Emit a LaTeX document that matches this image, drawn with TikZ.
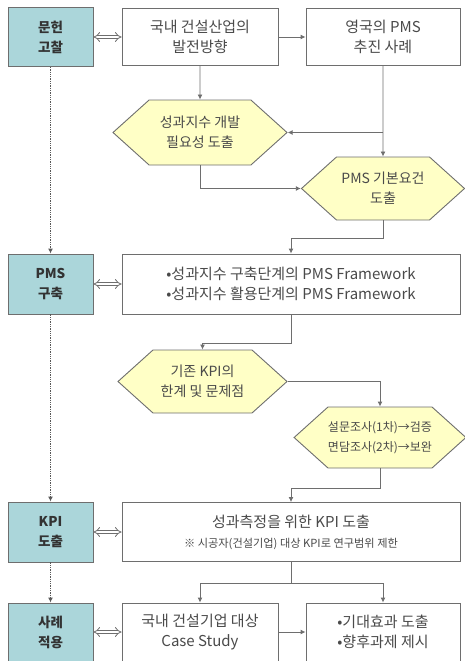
\documentclass[tikz,border=0pt]{standalone}
\usepackage{fontspec}
\setmainfont{Noto Sans CJK KR}
\usepackage[svgnames]{xcolor}
\usepackage{tikz}
\usetikzlibrary{calc,arrows.meta,shapes.symbols}

\definecolor{StageTeal}{HTML}{ABD6DA}
\definecolor{HexYellow}{HTML}{FFFFC6}
\definecolor{LineGray}{HTML}{6E6E6E}
\definecolor{TextGray}{HTML}{4A4A4A}

\tikzset{
  stage/.style={draw=LineGray, fill=StageTeal, line width=0.9pt, inner sep=0pt,
    minimum width=85pt, align=center, text=black!80,
    font=\fontsize{13.5}{20}\selectfont\bfseries},
  task/.style={draw=LineGray, fill=white, line width=0.9pt, inner sep=0pt,
    align=center, text=TextGray, font=\fontsize{15}{20}\selectfont},
  hexa/.style={signal, signal to=east and west, signal pointer angle=84,
    draw=LineGray, fill=HexYellow, line width=0.9pt, inner sep=0pt,
    align=center, text=TextGray, font=\fontsize{14}{20}\selectfont},
  flow/.style={draw=LineGray, line width=0.9pt, -{Latex[length=5pt,width=5pt]}},
  link/.style={draw=LineGray, line width=0.8pt, double=white, double distance=2.6pt,
    {Implies}-{Implies}},
  track/.style={draw=LineGray!80!black, line width=1.3pt, densely dotted,
    -{Latex[length=5pt,width=5pt]}},
}

\begin{document}
\begin{tikzpicture}[x=1pt, y=-1pt]
    \useasboundingbox (0,0) rectangle (465,661);

    %Stages, left column
    \node[stage, minimum height=59pt] (lit)  at (50.5,37) {문헌\\고찰};
    \node[stage, minimum height=60pt] (pms)  at (50.5,284)  {PMS\\구축};
    \node[stage, minimum height=60pt] (kpi)  at (50.5,532) {KPI\\도출};
    \node[stage, minimum height=58pt] (case) at (50.5,632)  {사례\\적용};

    %Literature review
    \node[task, minimum width=156pt, minimum height=57pt] (dev) at (200,37) {국내 건설산업의\\발전방향};
    \node[task, minimum width=154pt, minimum height=57pt] (uk)  at (383,37) {영국의 PMS\\추진 사례};
    \node[hexa, minimum width=174pt, minimum height=65pt] (need) at (200,132.5) {성과지수 개발\\필요성 도출};
    \node[hexa, minimum width=163pt, minimum height=63pt] (req)  at (383,188.5) {PMS 기본요건\\도출};

    %Framework
    \node[task, minimum width=338pt, minimum height=60pt] (fw) at (291,284)
        {\textbullet 성과지수 구축단계의 PMS Framework\\\textbullet 성과지수 활용단계의 PMS Framework};
    \node[hexa, minimum width=169pt, minimum height=63pt] (lim)  at (202.5,381.5) {기존 KPI의\\한계 및 문제점};
    \node[hexa, minimum width=168pt, minimum height=61pt, font=\fontsize{12}{20}\selectfont] (surv) at (380,437.5)
        {설문조사(1차)→검증\\면담조사(2차)→보완};

    %KPI
    \node[task, minimum width=338pt, minimum height=59pt] (kpid) at (291,532)
        {성과측정을 위한 KPI 도출\\{\fontsize{11.2}{16}\selectfont ※ 시공자(건설기업) 대상 KPI로 연구범위 제한}};

    %Case study
    \node[task, minimum width=156pt, minimum height=58pt] (cs)  at (200,632) {국내 건설기업 대상\\Case Study};
    \node[task, minimum width=154pt, minimum height=58pt] (eff) at (383,632) {\textbullet 기대효과 도출\\\textbullet 향후과제 제시};

    %Stage links
    \draw[link] (lit) -- (dev);
    \draw[link] (pms) -- (fw);
    \draw[link] (kpi) -- (kpid);
    \draw[link] (case) -- (cs);

    %Stage track
    \draw[track] (lit) -- (pms);
    \draw[track] (pms) -- (kpi);
    \draw[track] (kpi) -- (case);

    %Flow
    \draw[flow] (dev) -- (uk);
    \draw[flow] (dev) -- (need);
    \draw[flow] (uk) -- (req);
    \coordinate (ukturn) at (uk.south |- need.east);
    \draw[flow] (ukturn) -- (need.east);
    \draw[flow] (need.south) |- (req.west);
    \draw[flow] (req.south) -- ++(0,18) -| (fw.north);
    \draw[flow] (fw.south) -- ++(0,29) -| (lim.north);
    \draw[flow] (lim.east) -| (surv.north);
    \draw[flow] (surv.south) -- ++(0,20) -| (kpid.north);
    \draw[flow] (kpid.south) -- ++(0,21) coordinate (split) -| (cs.north);
    \draw[flow] (split) -| (eff.north);
    \draw[flow] (cs) -- (eff);

\end{tikzpicture}
\end{document}
